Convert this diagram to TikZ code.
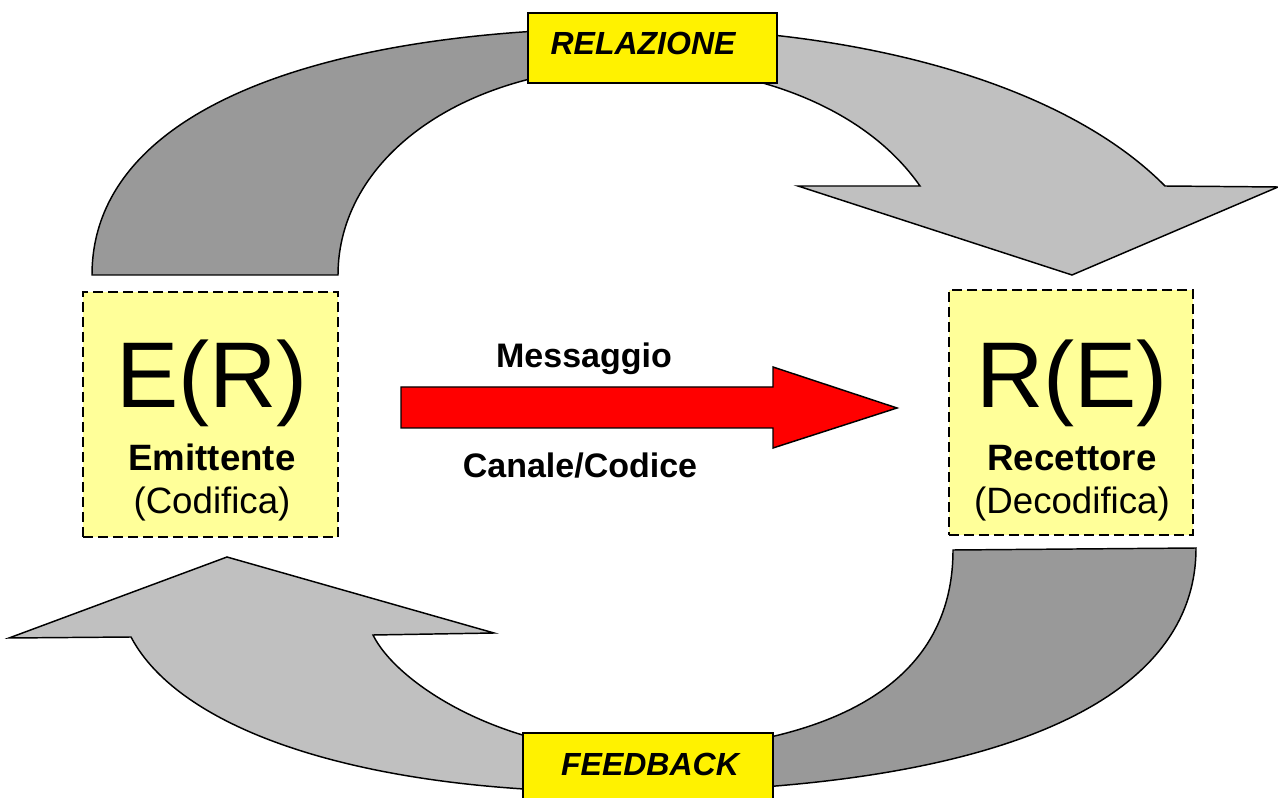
\documentclass[tikz,border=0pt]{standalone}
\usepackage{fontspec}
\setmainfont{Liberation Sans}
\usepackage{tikz}
\usepackage{xcolor}

\definecolor{darkarc}{HTML}{999999}
\definecolor{lightarc}{HTML}{C0C0C0}
\definecolor{paleyellow}{HTML}{FFFF99}

\tikzset{
    arcpart/.style={draw=black, line width=1.1pt, line join=miter},
    rolebox/.style={draw=black, fill=paleyellow, line width=1.4pt, dash pattern=on 7.5pt off 3.75pt},
    tagbox/.style={draw=black, fill=yellow, line width=1.1pt},
    bigtxt/.style={anchor=base, inner sep=0pt, font=\fontsize{70}{80}\selectfont},
    roletxt/.style={anchor=base, inner sep=0pt, font=\fontsize{27.5}{32}\selectfont},
    msgtxt/.style={anchor=base, inner sep=0pt, font=\bfseries\fontsize{25.5}{30}\selectfont},
    tagtxt/.style={anchor=base, inner sep=0pt, font=\bfseries\itshape\fontsize{24}{28}\selectfont},
}

\begin{document}
\begin{tikzpicture}[x=0.75pt,y=-0.75pt]
    \useasboundingbox (0,0) rectangle (1278,798);

    % Top arrow, dark half
    \draw [arcpart,fill=darkarc] (92,275) .. controls (92,110) and (320,28) .. (640,28)
        -- (640,66) .. controls (460,66) and (338,160) .. (338,275) -- cycle;

    % Top arrow, light half with head
    \draw [arcpart,fill=lightarc] (640,28) .. controls (850,28) and (1060,80) .. (1165,186)
        -- (1278,187) -- (1072,275) -- (798,186) -- (920,186)
        .. controls (860,100) and (740,66) .. (640,66) -- cycle;

    % Bottom arrow, dark half
    \draw [arcpart,fill=darkarc] (620,792) .. controls (950,792) and (1196,720) .. (1196,548)
        -- (953,550) .. controls (953,720) and (760,752) .. (620,752) -- cycle;

    % Bottom arrow, light half with head
    \draw [arcpart,fill=lightarc] (620,792) .. controls (360,792) and (180,730) .. (131,637)
        -- (9,638) -- (227,557) -- (494,633) -- (373,635)
        .. controls (395,680) and (490,745) .. (620,752) -- cycle;

    % Tags on the arrows
    \node [tagbox, minimum width=186.75pt, minimum height=52.5pt] (relbox) at (652.5,48) {};
    \node [tagtxt] (reltxt) at (643,55) {RELAZIONE};
    \node [tagbox, minimum width=187.5pt, minimum height=52.5pt] (fbbox) at (648,768) {};
    \node [tagtxt] (fbtxt) at (650,775) {FEEDBACK};

    % Emittente
    \node [rolebox, minimum width=191.25pt, minimum height=183.75pt] (emitbox) at (210.5,414.5) {};
    \node [bigtxt] (emitsym) at (212,408) {E(R)};
    \node [roletxt, font=\bfseries\fontsize{27.5}{32}\selectfont] (emitname) at (212,470) {Emittente};
    \node [roletxt] (emitrole) at (212,513) {(Codifica)};

    % Recettore
    \node [rolebox, minimum width=183pt, minimum height=183.75pt] (recbox) at (1071,412.5) {};
    \node [bigtxt] (recsym) at (1072,408) {R(E)};
    \node [roletxt, font=\bfseries\fontsize{27.5}{32}\selectfont] (recname) at (1072,470) {Recettore};
    \node [roletxt] (recrole) at (1072,513) {(Decodifica)};

    % Message arrow
    \draw [fill=red, line width=1.1pt, line join=miter] (401,387) -- (773,387) -- (773,367)
        -- (897,408) -- (773,448) -- (773,428) -- (401,428) -- cycle;
    \node [msgtxt] (msg) at (584,368) {Messaggio};
    \node [msgtxt] (chan) at (580,477) {Canale/Codice};
\end{tikzpicture}
\end{document}
